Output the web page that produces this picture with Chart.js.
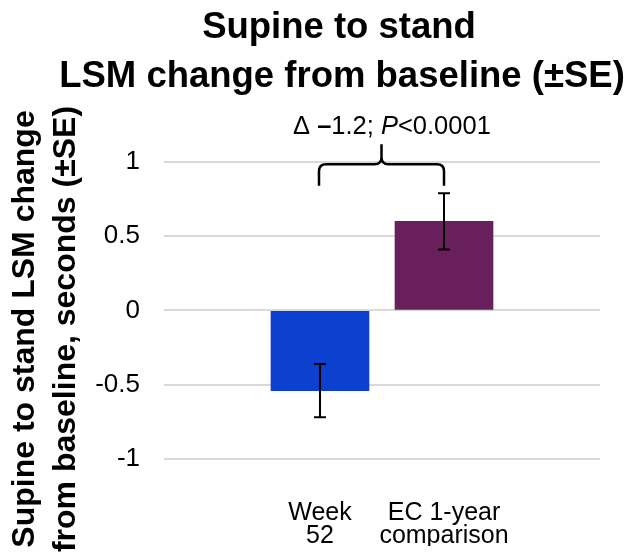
<!DOCTYPE html>
<html>
<head>
<meta charset="utf-8">
<script src="https://cdn.jsdelivr.net/npm/chart.js@4.4.1/dist/chart.umd.min.js"></script>
<style>
html, body { margin: 0; padding: 0; background: #fff; }
#wrap { width: 633px; height: 556px; position: relative; }
</style>
</head>
<body>
<div id="wrap"><canvas id="lsmChart"></canvas></div>
<script>
const categories = [['Week', '52'], ['EC 1-year', 'comparison']];
const changeValues = [-0.54, 0.60];
const seValues = [0.18, 0.19];
const yTickValues = [-1, -0.5, 0, 0.5, 1];
const titleLines = ['Supine to stand', 'LSM change from baseline (±SE)'];
const yTitleLines = ['Supine to stand LSM change', 'from baseline, seconds (±SE)'];
const barColors = ['#0C40CE', '#691F5B'];

const FONT = "'Liberation Sans', Arial, sans-serif";

// title drawn by hand so it can sit a little right of centre like the original
const titlePlugin = {
    id: 'titleText',
    afterDraw(chart) {
        const ctx = chart.ctx;
        ctx.save();
        ctx.fillStyle = '#000';
        ctx.font = 'bold 36.5px ' + FONT;
        ctx.textAlign = 'center';
        ctx.textBaseline = 'alphabetic';
        ctx.fillText(titleLines[0], 339, 38);
        ctx.fillText(titleLines[1], 342, 87);
        ctx.restore();
    }
};

const errorBarPlugin = {
    id: 'errorBars',
    afterDatasetsDraw(chart) {
        const { ctx, scales: { x, y } } = chart;
        ctx.save();
        ctx.strokeStyle = '#000';
        ctx.lineWidth = 2;
        changeValues.forEach((v, i) => {
            const px = x.getPixelForValue(i + 1);
            const top = y.getPixelForValue(v + seValues[i]);
            const bot = y.getPixelForValue(v - seValues[i]);
            ctx.beginPath();
            ctx.moveTo(px, top); ctx.lineTo(px, bot);
            ctx.moveTo(px - 6, top); ctx.lineTo(px + 6, top);
            ctx.moveTo(px - 6, bot); ctx.lineTo(px + 6, bot);
            ctx.stroke();
        });
        ctx.restore();
    }
};

// curly bracket + delta annotation over the two bars
const bracketPlugin = {
    id: 'bracket',
    afterDraw(chart) {
        const { ctx, scales: { x, y } } = chart;
        const xl = x.getPixelForValue(1) - 1;
        const xr = x.getPixelForValue(2);
        const cx = (xl + xr) / 2;
        const yb = y.getPixelForValue(0.84);
        const yt = y.getPixelForValue(0.985);
        const yp = y.getPixelForValue(1.12);
        const r = 7;
        ctx.save();
        ctx.strokeStyle = '#000';
        ctx.lineWidth = 2.5;
        ctx.beginPath();
        ctx.moveTo(xl, yb);
        ctx.lineTo(xl, yt + r);
        ctx.quadraticCurveTo(xl, yt, xl + r, yt);
        ctx.lineTo(cx - r, yt);
        ctx.quadraticCurveTo(cx, yt, cx, yt - r);
        ctx.lineTo(cx, yp);
        ctx.moveTo(cx, yt - r);
        ctx.quadraticCurveTo(cx, yt, cx + r, yt);
        ctx.lineTo(xr - r, yt);
        ctx.quadraticCurveTo(xr, yt, xr, yt + r);
        ctx.lineTo(xr, yb);
        ctx.stroke();

        const parts = [
            { t: 'Δ ', f: '25.5px ' + FONT },
            { t: '–', f: 'bold 25.5px ' + FONT },
            { t: '1.2; ', f: '25.5px ' + FONT },
            { t: 'P', f: 'italic 25.5px ' + FONT },
            { t: '<0.0001', f: '25.5px ' + FONT }
        ];
        let total = 0;
        parts.forEach(p => { ctx.font = p.f; p.w = ctx.measureText(p.t).width; total += p.w; });
        let tx = x.getPixelForValue(1.58) - total / 2;
        const ty = y.getPixelForValue(1.19);
        ctx.fillStyle = '#000';
        ctx.textBaseline = 'alphabetic';
        ctx.textAlign = 'left';
        parts.forEach(p => { ctx.font = p.f; ctx.fillText(p.t, tx, ty); tx += p.w; });
        ctx.restore();
    }
};

const ctx = document.getElementById('lsmChart');
new Chart(ctx, {
    type: 'bar',
    data: {
        datasets: [{
            data: changeValues.map((v, i) => ({ x: i + 1, y: v })),
            backgroundColor: barColors,
            borderWidth: 0,
            barThickness: 98
        }]
    },
    options: {
        responsive: true,
        maintainAspectRatio: false,
        animation: false,
        layout: { padding: { top: 162, left: 2, right: 33, bottom: 10 } },
        plugins: {
            legend: { display: false },
            tooltip: { enabled: false },
            title: { display: false }
        },
        scales: {
            x: {
                type: 'linear',
                min: -0.258,
                max: 3.258,
                offset: false,
                grid: { display: false, offset: false },
                border: { display: false },
                afterBuildTicks: scale => { scale.ticks = categories.map((c, i) => ({ value: i + 1 })); },
                afterFit: scale => { scale.height = 50; },
                ticks: {
                    autoSkip: false,
                    maxRotation: 0,
                    padding: -2,
                    color: '#000',
                    font: { family: FONT, size: 25, lineHeight: 0.9 },
                    callback: (value, index) => categories[index]
                }
            },
            y: {
                min: -1.25,
                max: 1,
                afterBuildTicks: scale => { scale.ticks = yTickValues.map(v => ({ value: v })); },
                afterFit: scale => { scale.width = 162; },
                grid: { color: '#D9D9D9', lineWidth: 2, drawTicks: false },
                border: { display: false },
                ticks: {
                    padding: 24,
                    color: '#000',
                    font: { family: FONT, size: 26 },
                    callback: v => String(v)
                },
                title: {
                    display: true,
                    text: yTitleLines,
                    color: '#000',
                    padding: { top: 3, bottom: 9 },
                    font: { family: FONT, size: 32, weight: 'bold', lineHeight: 1.28 }
                }
            }
        }
    },
    plugins: [titlePlugin, errorBarPlugin, bracketPlugin]
});
</script>
</body>
</html>
